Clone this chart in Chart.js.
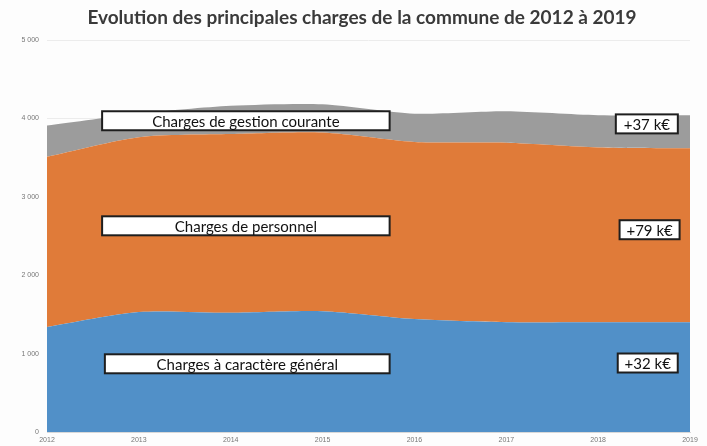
<!DOCTYPE html>
<html>
<head>
<meta charset="utf-8">
<script src="https://cdn.jsdelivr.net/npm/chart.js@4"></script>
<style>
  body { margin: 0; background: #fdfdfd; }
  #chart { display: block; }
</style>
</head>
<body>
<canvas id="chart" width="707" height="446"></canvas>
<script>
// values in k€
const years = ['2012', '2013', '2014', '2015', '2016', '2017', '2018', '2019'];
const chargesGeneral = [1340, 1530, 1520, 1540, 1440, 1400, 1400, 1400];
const chargesPersonnel = [2170, 2230, 2280, 2280, 2260, 2290, 2230, 2220];
const chargesGestion = [400, 300, 360, 360, 360, 400, 410, 420];
const seriesNames = ['Charges à caractère général', 'Charges de personnel', 'Charges de gestion courante'];
const variations = ['+32 k€', '+79 k€', '+37 k€'];
const chartTitle = 'Evolution des principales charges de la commune de 2012 à 2019';

// white boxes with a black frame, placed in data units (x = year index, y = k€)
const noteBoxes = [
    { text: seriesNames[2], x0: 0.6, x1: 3.73, y: 3970 },
    { text: seriesNames[1], x0: 0.6, x1: 3.73, y: 2630 },
    { text: seriesNames[0], x0: 0.63, x1: 3.73, y: 870 },
    { text: variations[2], xc: 6.53, w: 62, y: 3930 },
    { text: variations[1], xc: 6.56, w: 60, y: 2580 },
    { text: variations[0], xc: 6.54, w: 60, y: 880 }
];

const notesPlugin = {
    id: 'notes',
    afterDatasetsDraw(chart) {
        const ctx = chart.ctx;
        const xs = chart.scales.x, ys = chart.scales.y;
        ctx.save();
        ctx.font = '15px Lato';
        ctx.textAlign = 'center';
        ctx.textBaseline = 'middle';
        noteBoxes.forEach(b => {
            let left, width;
            if (b.xc !== undefined) {
                width = b.w;
                left = xs.getPixelForValue(b.xc) - width / 2;
            } else {
                left = xs.getPixelForValue(b.x0);
                width = xs.getPixelForValue(b.x1) - left;
            }
            const cy = ys.getPixelForValue(b.y);
            const h = 19;
            ctx.fillStyle = '#ffffff';
            ctx.fillRect(left, cy - h / 2, width, h);
            ctx.lineWidth = 2;
            ctx.strokeStyle = '#1e1e1e';
            ctx.strokeRect(left, cy - h / 2, width, h);
            ctx.fillStyle = '#111111';
            ctx.fillText(b.text, left + width / 2, cy + 1);
        });

        // title, centred a bit right of the canvas middle like the original
        ctx.font = 'bold 19px Lato';
        ctx.fillStyle = '#3a3a3a';
        ctx.fillText(chartTitle, 362, 18);
        ctx.restore();
    }
};

const ctx = document.getElementById('chart').getContext('2d');
new Chart(ctx, {
    type: 'line',
    data: {
        labels: years,
        datasets: [
            {
                label: seriesNames[0],
                data: chargesGeneral,
                backgroundColor: '#5190c8',
                borderColor: '#5190c8',
                fill: 'origin'
            },
            {
                label: seriesNames[1],
                data: chargesPersonnel,
                backgroundColor: '#e07b39',
                borderColor: '#e07b39',
                fill: '-1'
            },
            {
                label: seriesNames[2],
                data: chargesGestion,
                backgroundColor: '#9c9c9c',
                borderColor: '#9c9c9c',
                fill: '-1'
            }
        ]
    },
    options: {
        responsive: false,
        animation: false,
        layout: { padding: { left: 0, right: 17, top: 40, bottom: 0 } },
        elements: {
            point: { radius: 0 },
            line: { borderWidth: 0, tension: 0.25 }
        },
        scales: {
            x: {
                grid: { display: false, drawTicks: false, tickLength: 0 },
                border: { color: '#d8d8d8' },
                ticks: { color: '#777', font: { size: 7 }, padding: 4, maxRotation: 0 },
                afterFit(scale) { scale.height = 14; }
            },
            y: {
                stacked: true,
                min: 0,
                max: 5000,
                grid: { color: '#ececec', drawTicks: false },
                border: { display: false },
                ticks: {
                    stepSize: 1000,
                    color: '#777',
                    font: { size: 7 },
                    padding: 8,
                    callback: v => v === 0 ? '0' : String(v).replace(/(\d)(\d{3})$/, '$1 $2')
                },
                afterFit(scale) { scale.width = 47; }
            }
        },
        plugins: {
            legend: { display: false },
            tooltip: { enabled: false },
            title: { display: false }
        }
    },
    plugins: [notesPlugin]
});
</script>
</body>
</html>
